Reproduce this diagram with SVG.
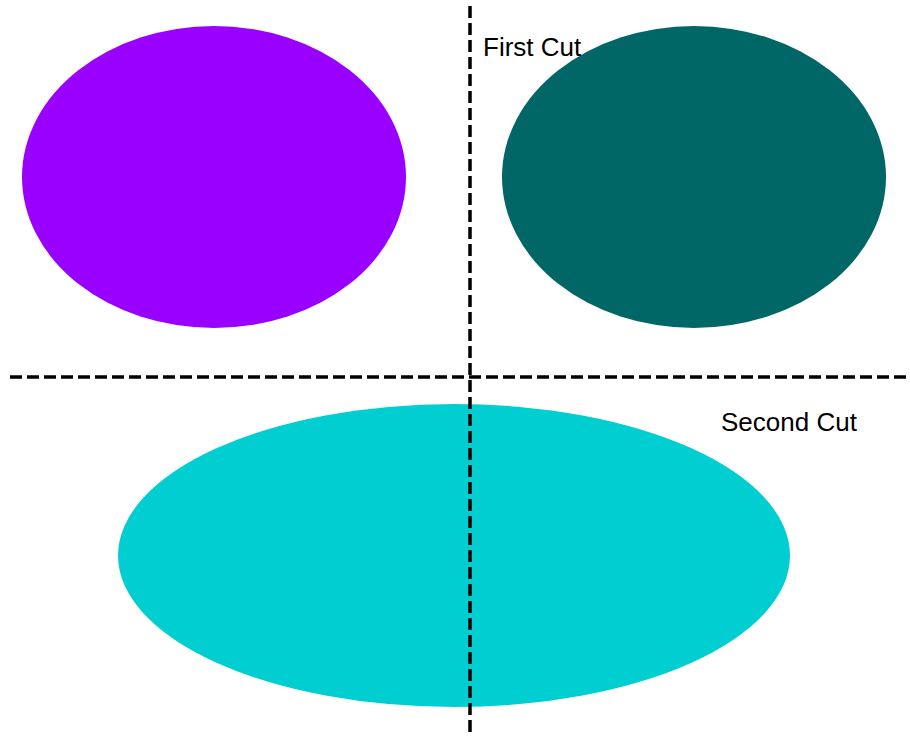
<svg xmlns="http://www.w3.org/2000/svg" width="910" height="737" viewBox="0 0 910 737">
<style>
.cut{stroke:#000;stroke-width:3.5;stroke-dasharray:12 5;fill:none}
.lbl{font-family:"Liberation Sans",Arial,sans-serif;font-size:26px;fill:#000}
</style>
<rect width="910" height="737" fill="#fff"/>
<g id="purple"><ellipse cx="214" cy="177" rx="192" ry="151" fill="#9900ff"/></g>
<g id="teal"><ellipse cx="694" cy="177" rx="192" ry="151" fill="#006666"/></g>
<g id="cyan"><ellipse cx="454" cy="555.5" rx="336" ry="151.5" fill="#00ced1"/></g>
<g id="connectors">
<line class="cut" x1="10" y1="377" x2="910" y2="377"/>
<line class="cut" x1="470" y1="6" x2="470" y2="737"/>
</g>
<text class="lbl" x="483" y="56">First Cut</text>
<text class="lbl" x="721" y="431">Second Cut</text>
</svg>
